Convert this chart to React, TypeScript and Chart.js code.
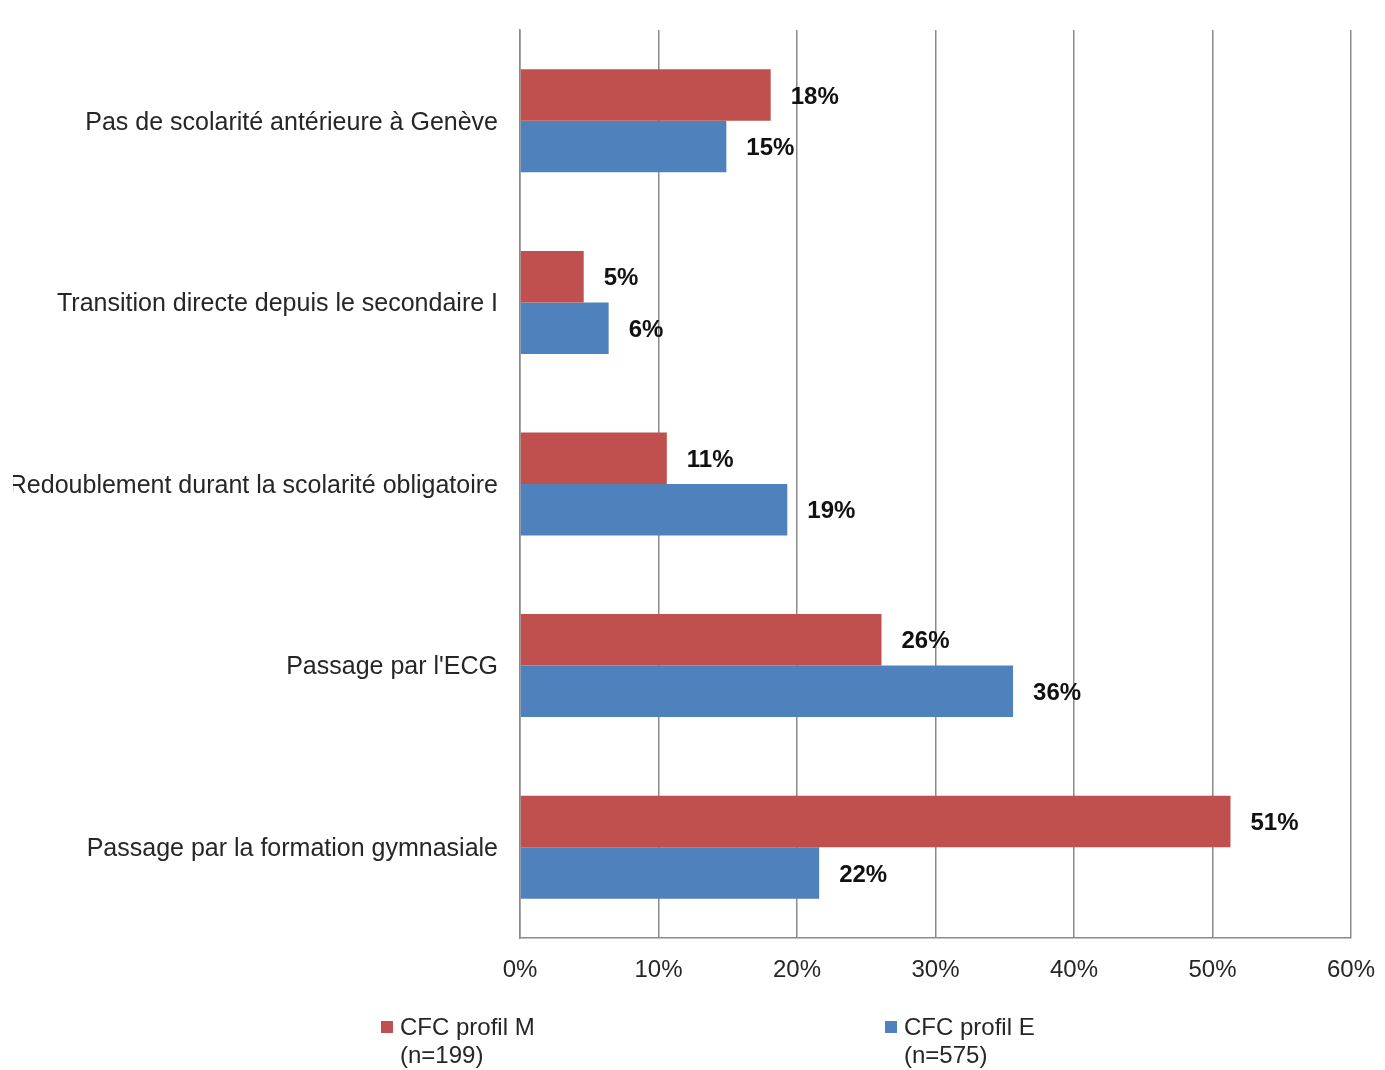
import React, { useEffect, useRef } from 'react';
import { Chart, registerables } from 'chart.js';

Chart.register(...registerables);

const FONT = "'Liberation Sans', Arial, sans-serif";

const categories = [
  'Pas de scolarité antérieure à Genève',
  'Transition directe depuis le secondaire I',
  'Redoublement durant la scolarité obligatoire',
  "Passage par l'ECG",
  'Passage par la formation gymnasiale',
];
const profilM = [18.1, 4.6, 10.6, 26.1, 51.3];
const profilE = [14.9, 6.4, 19.3, 35.6, 21.6];
const seriesM = ['CFC profil M', '(n=199)'];
const seriesE = ['CFC profil E', '(n=575)'];
const colorM = '#C0504D';
const colorE = '#4F81BD';
const xMin = 0;
const xMax = 60;
const xStep = 10;

const GRID = '#8a8a8a';

const dataLabels = {
  id: 'dataLabels',
  afterDatasetsDraw(chart: any) {
    const ctx = chart.ctx;
    ctx.save();
    ctx.font = `bold 24px ${FONT}`;
    ctx.fillStyle = '#111';
    ctx.textBaseline = 'middle';
    ctx.textAlign = 'left';
    chart.data.datasets.forEach((ds: any, i: number) => {
      chart.getDatasetMeta(i).data.forEach((bar: any, j: number) => {
        ctx.fillText(Math.round(ds.data[j]) + '%', bar.x + 20, bar.y + 2);
      });
    });
    ctx.restore();
  },
};

const catLabels = {
  id: 'catLabels',
  afterDraw(chart: any) {
    const ctx = chart.ctx;
    const yScale = chart.scales.y;
    ctx.save();
    ctx.beginPath();
    ctx.rect(13, 0, chart.width, chart.height);
    ctx.clip();
    ctx.font = `25px ${FONT}`;
    ctx.fillStyle = '#262626';
    ctx.textBaseline = 'middle';
    ctx.textAlign = 'right';
    chart.data.labels.forEach((lab: string, j: number) => {
      ctx.fillText(lab, chart.chartArea.left - 22, yScale.getPixelForTick(j) + 2);
    });
    ctx.restore();
  },
};

const customLegend = {
  id: 'customLegend',
  afterDraw(chart: any) {
    const ctx = chart.ctx;
    const left = chart.chartArea.left;
    const items = [
      { x: left - 139, color: colorM, lines: seriesM },
      { x: left + 365, color: colorE, lines: seriesE },
    ];
    const y0 = 1028;
    ctx.save();
    ctx.font = `24px ${FONT}`;
    ctx.textBaseline = 'middle';
    ctx.textAlign = 'left';
    items.forEach((it) => {
      ctx.fillStyle = it.color;
      ctx.fillRect(it.x, y0 - 7, 12, 12);
      ctx.fillStyle = '#262626';
      it.lines.forEach((t, k) => {
        ctx.fillText(t, it.x + 19, y0 + k * 28);
      });
    });
    ctx.restore();
  },
};

export default function App() {
  const ref = useRef<HTMLCanvasElement | null>(null);

  useEffect(() => {
    if (!ref.current) return;
    const chart = new Chart(ref.current, {
      type: 'bar',
      data: {
        labels: categories,
        datasets: [
          {
            label: seriesM.join(' '),
            data: profilM,
            backgroundColor: colorM,
            barPercentage: 1,
            categoryPercentage: 0.567,
          },
          {
            label: seriesE.join(' '),
            data: profilE,
            backgroundColor: colorE,
            barPercentage: 1,
            categoryPercentage: 0.567,
          },
        ],
      },
      options: {
        indexAxis: 'y',
        animation: false,
        responsive: true,
        maintainAspectRatio: false,
        layout: { padding: { left: 520, right: 34, top: 30, bottom: 0 } },
        plugins: {
          legend: { display: false },
          tooltip: { enabled: false },
        },
        scales: {
          x: {
            min: xMin,
            max: xMax,
            ticks: {
              stepSize: xStep,
              callback: (v: any) => v + '%',
              font: { family: FONT, size: 24 },
              color: '#262626',
              padding: 18,
              maxRotation: 0,
            },
            grid: { color: GRID, lineWidth: 1.5, drawTicks: false },
            border: { display: true, color: GRID, width: 1.5 },
            afterFit: (s: any) => {
              s.height = 132;
              s.paddingLeft = 0;
              s.paddingRight = 0;
            },
          },
          y: {
            ticks: { display: false },
            grid: { display: false, drawTicks: false },
            border: { display: true, color: GRID, width: 1.5 },
            afterFit: (s: any) => {
              s.width = 0;
              s.paddingTop = 0;
              s.paddingBottom = 0;
            },
          },
        },
      } as any,
      plugins: [dataLabels, catLabels, customLegend],
    });
    return () => chart.destroy();
  }, []);

  return (
    <div style={{ position: 'fixed', left: 0, top: 0, width: 1385, height: 1070, background: '#fff' }}>
      <canvas ref={ref} />
    </div>
  );
}
